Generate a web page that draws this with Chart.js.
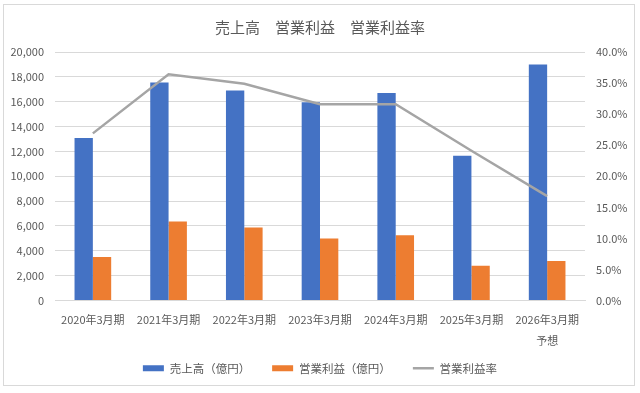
<!DOCTYPE html>
<html>
<head>
<meta charset="utf-8">
<script src="https://cdn.jsdelivr.net/npm/chart.js@4"></script>
<style>
  html, body { margin: 0; padding: 0; background: #fff; }
  #wrap { width: 640px; height: 393px; }
</style>
</head>
<body>
<div id="wrap"><canvas id="salesChart" width="640" height="393"></canvas></div>
<script>
// data
const periods = ['2020年3月期', '2021年3月期', '2022年3月期', '2023年3月期', '2024年3月期', '2025年3月期', ['2026年3月期', '予想']];
const sales = [13080, 17540, 16900, 15960, 16710, 11640, 19000];      // 売上高（億円）
const opProfit = [3500, 6350, 5870, 4990, 5260, 2790, 3170];         // 営業利益（億円）
const opMargin = [26.9, 36.4, 34.9, 31.6, 31.6, 24.1, 16.8];         // 営業利益率 (%)

const FONT = "'Noto Sans CJK JP', 'Noto Sans', sans-serif";
const TEXT = '#595959';
const GRID = '#D9D9D9';

// white background + light frame like the Excel chart area
const frame = {
    id: 'frame',
    beforeDraw(chart) {
        const ctx = chart.ctx;
        ctx.save();
        ctx.fillStyle = '#fff';
        ctx.fillRect(0, 0, chart.width, chart.height);
        ctx.strokeStyle = GRID;
        ctx.lineWidth = 1;
        ctx.strokeRect(3.5, 4.5, 631, 381);
        ctx.restore();
    }
};

// pull the legend up a little so the 2-line x label has room
const liftLegend = {
    id: 'liftLegend',
    afterLayout(chart) {
        const lg = chart.legend;
        if (lg) {
            lg.top -= 8;
            lg.bottom -= 8;
        }
    }
};

const ctx = document.getElementById('salesChart').getContext('2d');
new Chart(ctx, {
    type: 'bar',
    data: {
        labels: periods,
        datasets: [{
            label: '売上高（億円）',
            data: sales,
            backgroundColor: '#4472C4',
            borderWidth: 0,
            yAxisID: 'y',
            order: 1,
            pointStyle: 'rect'
        }, {
            label: '営業利益（億円）',
            data: opProfit,
            backgroundColor: '#ED7D31',
            borderWidth: 0,
            yAxisID: 'y',
            order: 1,
            pointStyle: 'rect'
        }, {
            type: 'line',
            label: '営業利益率',
            data: opMargin,
            borderColor: '#A5A5A5',
            backgroundColor: '#A5A5A5',
            borderWidth: 2.5,
            pointRadius: 0,
            tension: 0,
            yAxisID: 'y1',
            order: 0,
            pointStyle: 'line'
        }]
    },
    options: {
        responsive: false,
        animation: false,
        layout: { padding: { left: 0, right: 0, top: 0, bottom: 1 } },
        datasets: {
            bar: { categoryPercentage: 0.484, barPercentage: 1.0 }
        },
        scales: {
            x: {
                grid: { display: false, drawTicks: false },
                border: { display: true, color: GRID, width: 1 },
                ticks: {
                    color: TEXT,
                    font: { family: FONT, size: 11, lineHeight: 1.88 },
                    padding: 9,
                    maxRotation: 0
                },
                afterFit(scale) { scale.height = 48; }
            },
            y: {
                position: 'left',
                min: 0,
                max: 20000,
                grid: { color: GRID, drawTicks: false },
                border: { display: false },
                ticks: {
                    stepSize: 2000,
                    color: TEXT,
                    padding: 11,
                    font: { family: FONT, size: 11 },
                    callback: v => v.toLocaleString('en-US')
                },
                afterFit(scale) { scale.width = 55; }
            },
            y1: {
                position: 'right',
                min: 0,
                max: 40,
                grid: { display: false, drawTicks: false },
                border: { display: false },
                ticks: {
                    stepSize: 5,
                    color: TEXT,
                    padding: 11,
                    font: { family: FONT, size: 11 },
                    callback: v => v.toFixed(1) + '%'
                },
                afterFit(scale) { scale.width = 55; }
            }
        },
        plugins: {
            title: {
                display: true,
                text: '売上高　営業利益　営業利益率',
                color: TEXT,
                font: { family: FONT, size: 15, weight: 'normal' },
                padding: { top: 18, bottom: 16 }
            },
            legend: {
                position: 'bottom',
                labels: {
                    color: TEXT,
                    font: { family: FONT, size: 11.5 },
                    usePointStyle: true,
                    pointStyleWidth: 21,
                    boxHeight: 6,
                    padding: 22,
                    sort: (a, b) => a.datasetIndex - b.datasetIndex
                }
            },
            tooltip: { enabled: false }
        }
    },
    plugins: [frame, liftLegend]
});
</script>
</body>
</html>
